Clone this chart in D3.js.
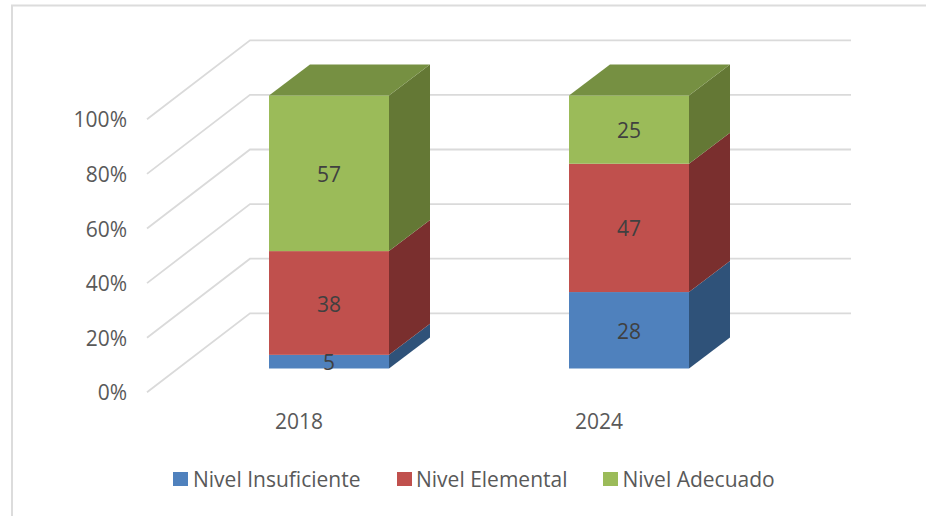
<!DOCTYPE html>
<html><head><meta charset="utf-8">
<script src="https://cdn.jsdelivr.net/npm/d3@7/dist/d3.min.js"></script>
<style>html,body{margin:0;padding:0;background:#fff}svg{display:block}text{font-family:"Open Sans",sans-serif}</style>
</head><body><svg id="c" width="926" height="516"></svg>
<script>
const categories = ["2018", "2024"];
const seriesNames = ["Nivel Insuficiente", "Nivel Elemental", "Nivel Adecuado"];
const insuficiente = [5, 28];
const elemental = [38, 47];
const adecuado = [57, 25];
const yTicks = [0, 20, 40, 60, 80, 100];
const frontColors = ["#4F81BD", "#C0504D", "#9BBB59"];
const sideColors = ["#2F5279", "#7A2F2E", "#647835"];
const topColor = "#769042";
const seriesValues = [insuficiente, elemental, adecuado];

const svg = d3.select("#c");
// chart frame
svg.append("path").attr("d", "M12,516V5.5H926").attr("fill", "none").attr("stroke", "#DCDCDC").attr("stroke-width", 2);

const y = d3.scaleLinear().domain([0, 100]).range([392.3, 119.3]);   // front plane of the 3D box
const x = d3.scaleBand().domain(categories).range([147, 747]);    // front plane
const wallDx = 103, wallDy = -79;
const barInsetDx = 32, barInsetDy = -23.8, barDx = 41, barDy = -31;
const barW = 120;
const fs = 21;

// gridlines: diagonal on side wall + horizontal along the back wall
const grid = svg.append("g").attr("fill", "none").attr("stroke", "#DADADA").attr("stroke-width", 1.8);
grid.selectAll("path").data(yTicks).join("path")
  .attr("d", t => `M${x.range()[0]},${y(t)}L${x.range()[0] + wallDx},${y(t) + wallDy}H${x.range()[1] + wallDx + 1}`);

// y labels via the axis
const axisG = svg.append("g").attr("transform", "translate(133,0)")
  .call(d3.axisLeft(y).tickValues(yTicks).tickSize(0).tickPadding(0).tickFormat(d => d + "%"));
axisG.select(".domain").remove();
axisG.selectAll("text").attr("fill", "#595959").attr("font-size", fs).attr("font-family", '"Open Sans",sans-serif').attr("dy", "0.36em").attr("x", -6).attr("y", 0);

// bars
categories.forEach((c, i) => {
  const x0 = x(c) + (x.bandwidth() - barW) / 2 + barInsetDx;
  let cum = 0;
  const g = svg.append("g");
  seriesValues.forEach((vals, s) => {
    const v = vals[i];
    const yb = y(cum) + barInsetDy, yt = y(cum + v) + barInsetDy;
    g.append("path").attr("fill", sideColors[s])
      .attr("d", `M${x0 + barW},${yb}L${x0 + barW + barDx},${yb + barDy}V${yt + barDy}L${x0 + barW},${yt}Z`);
    g.append("rect").attr("x", x0).attr("y", yt).attr("width", barW).attr("height", yb - yt).attr("fill", frontColors[s]);
    if (s === seriesValues.length - 1) {
      g.append("path").attr("fill", topColor)
        .attr("d", `M${x0},${yt}L${x0 + barDx},${yt + barDy}H${x0 + barW + barDx}L${x0 + barW},${yt}Z`);
    }
    cum += v;
  });
  cum = 0;
  seriesValues.forEach(vals => {
    const v = vals[i];
    g.append("text").attr("x", x0 + barW / 2).attr("y", y(cum + v / 2) + barInsetDy + 1).attr("dy", "0.36em")
      .attr("text-anchor", "middle").attr("fill", "#404040").attr("font-size", fs).text(v);
    cum += v;
  });
  // category label
  svg.append("text").attr("x", x0 + 30).attr("y", 421).attr("dy", "0.36em").attr("text-anchor", "middle")
    .attr("fill", "#595959").attr("font-size", fs).text(c);
});

// legend
const legendX = [173, 397, 603];
const legendTextX = [193, 416, 622.5];
const lg = svg.append("g");
seriesNames.forEach((n, i) => {
  lg.append("rect").attr("x", legendX[i]).attr("y", 472).attr("width", 15).attr("height", 14).attr("fill", frontColors[i]);
  lg.append("text").attr("x", legendTextX[i]).attr("y", 479.5).attr("dy", "0.36em").attr("fill", "#595959").attr("font-size", fs).text(n);
});
</script></body></html>
